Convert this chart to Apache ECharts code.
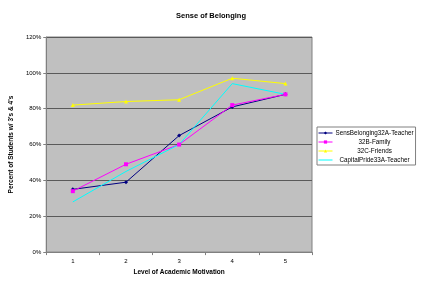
<!DOCTYPE html>
<html>
<head>
<meta charset="utf-8">
<script src="https://cdn.jsdelivr.net/npm/echarts@6/dist/echarts.min.js"></script>
<style>
  html, body { margin: 0; padding: 0; background: #fff; }
  #chart { width: 421px; height: 281px; }
</style>
</head>
<body>
<div id="chart"></div>
<script>
const levels = ["1", "2", "3", "4", "5"];
const sensBelonging32A = [35, 39, 65, 81, 88];
const family32B = [34, 49, 60, 82, 88];
const friends32C = [82, 84, 85, 97, 94];
const capitalPride33A = [28, 45, 60, 94, 88];

const font = "Liberation Sans, Arial, sans-serif";

function lineSeries(name, data, color, symbol, size) {
  return {
    name,
    type: "line",
    data,
    symbol,
    symbolSize: size,
    lineStyle: { width: 1, color },
    itemStyle: { color },
    emphasis: { disabled: true },
  };
}

const chart = echarts.init(document.getElementById("chart"), null, { renderer: "canvas" });
chart.setOption({
  animation: false,
  textStyle: { fontFamily: font },
  title: {
    text: "Sense of Belonging",
    left: 206,
    top: 7,
    textAlign: "center",
    textStyle: { fontSize: 7.5, fontWeight: "bold", color: "#000", fontFamily: font },
  },
  grid: { left: 35, right: 109, top: 37, bottom: 27, show: true, backgroundColor: "#c0c0c0", borderColor: "#808080", borderWidth: 1 },
  legend: {
    orient: "vertical",
    left: 317,
    top: 127,
    itemWidth: 14,
    itemHeight: 4,
    itemGap: 3,
    padding: [3, 2, 2, 1],
    borderColor: "#808080",
    borderWidth: 1,
    backgroundColor: "#fff",
    lineStyle: { width: 1 },
    formatter: (name) => `{t|${name}}`,
    textStyle: {
      fontSize: 6.3,
      color: "#000",
      fontFamily: font,
      rich: { t: { width: 74, align: "center", fontSize: 6.3, fontFamily: font, color: "#000" } },
    },
    data: ["SensBelonging32A-Teacher", "32B-Family", "32C-Friends", "CapitalPride33A-Teacher"],
  },
  xAxis: {
    type: "category",
    data: levels,
    name: "Level of Academic Motivation",
    nameLocation: "middle",
    nameGap: 16,
    nameTextStyle: { fontSize: 6.5, fontWeight: "bold", color: "#000" },
    axisLine: { lineStyle: { color: "#808080" } },
    axisTick: { show: true, lineStyle: { color: "#808080" }, length: 3 },
    axisLabel: { fontSize: 6, color: "#000", margin: 6 },
  },
  yAxis: {
    type: "value",
    min: 0,
    max: 120,
    interval: 20,
    name: "Percent of Students w/ 3's & 4's",
    nameLocation: "middle",
    nameGap: 23,
    nameTextStyle: { fontSize: 6.5, fontWeight: "bold", color: "#000" },
    axisLine: { show: true, lineStyle: { color: "#808080" } },
    axisTick: { show: true, lineStyle: { color: "#808080" }, length: 3 },
    axisLabel: { fontSize: 6, color: "#000", formatter: "{value}%", margin: 5 },
    splitLine: { lineStyle: { color: "#5a5a5a", width: 1 } },
  },
  series: [
    lineSeries("SensBelonging32A-Teacher", sensBelonging32A, "#000080", "diamond", 4),
    lineSeries("32B-Family", family32B, "#ff00ff", "rect", 4),
    lineSeries("32C-Friends", friends32C, "#ffff00", "triangle", 4),
    lineSeries("CapitalPride33A-Teacher", capitalPride33A, "#00ffff", "path://M0,0L10,10M10,0L0,10", 4),
  ],
});
</script>
</body>
</html>
